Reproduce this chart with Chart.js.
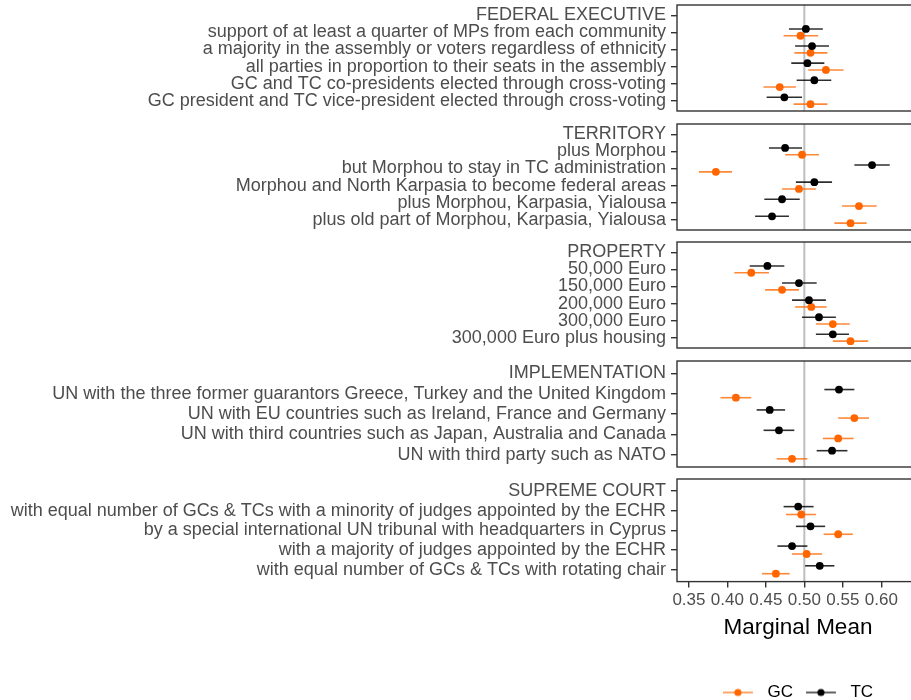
<!DOCTYPE html>
<html><head><meta charset="utf-8">
<script src="https://cdn.jsdelivr.net/npm/chart.js@4"></script>
<style>
html,body{margin:0;padding:0;background:#fff;overflow:hidden;}
#wrap{position:relative;width:911px;height:700px;overflow:hidden;background:#fff;}
#wrap canvas{position:absolute;left:0;}
</style></head><body><div id="wrap"></div>
<script>
// ---------- data ----------
const xTickValues = [0.35, 0.40, 0.45, 0.50, 0.55, 0.60];
const xMin = 0.3345, xMax = 0.649;
const xTitle = 'Marginal Mean';
const referenceValue = 0.5;
const seriesNames = ['GC', 'TC'];

const fedLabels = ['FEDERAL EXECUTIVE',
  'support of at least a quarter of MPs from each community',
  'a majority in the assembly or voters regardless of ethnicity',
  'all parties in proportion to their seats in the assembly',
  'GC and TC co-presidents elected through cross-voting',
  'GC president and TC vice-president elected through cross-voting'];
const fedGC = [[0.495,0.473,0.518],[0.508,0.487,0.530],[0.528,0.505,0.551],[0.468,0.447,0.489],[0.508,0.486,0.530]];
const fedTC = [[0.502,0.480,0.524],[0.510,0.488,0.532],[0.504,0.483,0.526],[0.513,0.490,0.535],[0.474,0.451,0.497]];

const terLabels = ['TERRITORY',
  'plus Morphou',
  'but Morphou to stay in TC administration',
  'Morphou and North Karpasia to become federal areas',
  'plus Morphou, Karpasia, Yialousa',
  'plus old part of Morphou, Karpasia, Yialousa'];
const terGC = [[0.497,0.475,0.519],[0.385,0.363,0.406],[0.493,0.471,0.515],[0.571,0.549,0.594],[0.560,0.539,0.581]];
const terTC = [[0.475,0.454,0.497],[0.588,0.565,0.611],[0.513,0.489,0.536],[0.471,0.448,0.494],[0.458,0.436,0.480]];

const propLabels = ['PROPERTY', '50,000 Euro', '150,000 Euro', '200,000 Euro', '300,000 Euro', '300,000 Euro plus housing'];
const propGC = [[0.431,0.409,0.454],[0.471,0.449,0.493],[0.509,0.488,0.529],[0.537,0.515,0.559],[0.560,0.537,0.583]];
const propTC = [[0.452,0.429,0.474],[0.493,0.471,0.516],[0.506,0.484,0.528],[0.519,0.497,0.541],[0.537,0.515,0.558]];

const implLabels = ['IMPLEMENTATION',
  'UN with the three former guarantors Greece, Turkey and the United Kingdom',
  'UN with EU countries such as Ireland, France and Germany',
  'UN with third countries such as Japan, Australia and Canada',
  'UN with third party such as NATO'];
const implGC = [[0.411,0.391,0.431],[0.565,0.544,0.584],[0.544,0.524,0.564],[0.484,0.464,0.504]];
const implTC = [[0.545,0.526,0.565],[0.455,0.438,0.475],[0.467,0.447,0.487],[0.536,0.516,0.556]];

const courtLabels = ['SUPREME COURT',
  'with equal number of GCs & TCs with a minority of judges appointed by the ECHR',
  'by a special international UN tribunal with headquarters in Cyprus',
  'with a majority of judges appointed by the ECHR',
  'with equal number of GCs & TCs with rotating chair'];
const courtGC = [[0.496,0.476,0.515],[0.544,0.525,0.563],[0.503,0.484,0.523],[0.463,0.445,0.481]];
const courtTC = [[0.492,0.473,0.512],[0.508,0.489,0.527],[0.484,0.465,0.504],[0.520,0.501,0.539]];

// ---------- layout / style ----------
const panels = [
  {labels: fedLabels, gc: fedGC, tc: fedTC},
  {labels: terLabels, gc: terGC, tc: terTC},
  {labels: propLabels, gc: propGC, tc: propTC},
  {labels: implLabels, gc: implGC, tc: implTC},
  {labels: courtLabels, gc: courtGC, tc: courtTC}
];
const panelTops = [5, 124, 242, 361, 479];
const panelHeight = 106;
const PAD = 16;
const ORANGE = '#ff6600', ORANGE_LINE = 'rgba(255,102,0,0.78)';
const BLACK = '#000000', BLACK_LINE = 'rgba(0,0,0,0.82)';
const FONT = "'Liberation Sans', Arial, Helvetica, sans-serif";
Chart.defaults.font.family = FONT;

function keyImage(lineCol, dotCol) {
  const c = document.createElement('canvas');
  c.width = 36; c.height = 12;
  const g = c.getContext('2d');
  g.strokeStyle = lineCol; g.lineWidth = 1.5;
  g.beginPath(); g.moveTo(0, 6); g.lineTo(30, 6); g.stroke();
  g.fillStyle = dotCol;
  g.beginPath(); g.arc(15, 6, 3.6, 0, Math.PI * 2); g.fill();
  return c;
}

const panelPlugin = {
  id: 'panelDeco',
  beforeDatasetsDraw(chart) {
    const {ctx, chartArea: a, scales: {x, y}} = chart;
    ctx.save();
    const rx = x.getPixelForValue(referenceValue);
    ctx.strokeStyle = '#bebebe'; ctx.lineWidth = 2;
    ctx.beginPath(); ctx.moveTo(rx, a.top); ctx.lineTo(rx, a.bottom); ctx.stroke();
    chart.data.datasets.forEach(ds => {
      ctx.strokeStyle = ds.barColor; ctx.lineWidth = 1.6;
      ds.data.forEach(d => {
        const py = y.getPixelForValue(d.y);
        ctx.beginPath();
        ctx.moveTo(x.getPixelForValue(d.lo), py);
        ctx.lineTo(x.getPixelForValue(d.hi), py);
        ctx.stroke();
      });
    });
    ctx.restore();
  },
  afterDatasetsDraw(chart) {
    const {ctx, chartArea: a} = chart;
    ctx.save();
    ctx.strokeStyle = '#333333'; ctx.lineWidth = 1.4;
    ctx.strokeRect(a.left, a.top, a.right - a.left, a.bottom - a.top);
    ctx.restore();
  }
};

const wrap = document.getElementById('wrap');
panels.forEach((p, k) => {
  const last = k === panels.length - 1;
  const canvas = document.createElement('canvas');
  const h = last ? 248 : panelHeight + 2 * PAD;
  canvas.width = 925; canvas.height = h;
  canvas.style.top = (panelTops[k] - PAD) + 'px';
  wrap.appendChild(canvas);
  const n = p.labels.length;
  const mk = (arr, off) => arr.map((v, i) => ({x: v[0], y: i + 1 + off, lo: v[1], hi: v[2]}));
  new Chart(canvas, {
    type: 'scatter',
    data: {datasets: [
      {label: seriesNames[1], data: mk(p.tc, -0.2), backgroundColor: BLACK, borderWidth: 0, pointRadius: 3.9, barColor: BLACK_LINE},
      {label: seriesNames[0], data: mk(p.gc, 0.2), backgroundColor: ORANGE, borderWidth: 0, pointRadius: 3.9, barColor: ORANGE_LINE}
    ]},
    options: {
      responsive: false, animation: false, devicePixelRatio: 1,
      layout: {padding: {left: 0, right: 6, top: PAD, bottom: last ? 0 : PAD}},
      plugins: {
        tooltip: {enabled: false},
        legend: last ? {
          display: true, position: 'bottom', fullSize: false, align: 'center',
          labels: {
            usePointStyle: true, pointStyleWidth: 36, padding: 13, color: '#000',
            font: {size: 17},
            generateLabels: () => [
              {text: seriesNames[0], pointStyle: keyImage(ORANGE_LINE, ORANGE), fillStyle: ORANGE, strokeStyle: 'transparent', lineWidth: 0, hidden: false, datasetIndex: 1},
              {text: seriesNames[1], pointStyle: keyImage(BLACK_LINE, BLACK), fillStyle: BLACK, strokeStyle: 'transparent', lineWidth: 0, hidden: false, datasetIndex: 0}
            ]
          }
        } : {display: false}
      },
      scales: {
        x: {
          type: 'linear', min: xMin, max: xMax, display: last,
          afterBuildTicks: s => { s.ticks = xTickValues.map(v => ({value: v})); },
          ticks: {callback: v => Number(v).toFixed(2), color: '#4d4d4d', font: {size: 17}, padding: 3, maxRotation: 0, autoSkip: false},
          grid: {drawOnChartArea: false, drawTicks: true, tickLength: 6, color: '#333333', lineWidth: 1.4},
          border: {display: false},
          title: {display: true, text: xTitle, color: '#000', font: {size: 22.5}, padding: {top: 0, bottom: 30}}
        },
        y: {
          type: 'linear', reverse: true, min: -0.6, max: n - 1 + 0.6,
          afterBuildTicks: s => { s.ticks = p.labels.map((_, i) => ({value: i})); },
          afterFit: s => { s.width = 677; },
          ticks: {callback: v => p.labels[v], color: '#4d4d4d', font: {size: 18}, padding: 5, autoSkip: false},
          grid: {drawOnChartArea: false, drawTicks: true, tickLength: 6, color: '#333333', lineWidth: 1.4},
          border: {display: false}
        }
      }
    },
    plugins: [panelPlugin]
  });
});
</script></body></html>
